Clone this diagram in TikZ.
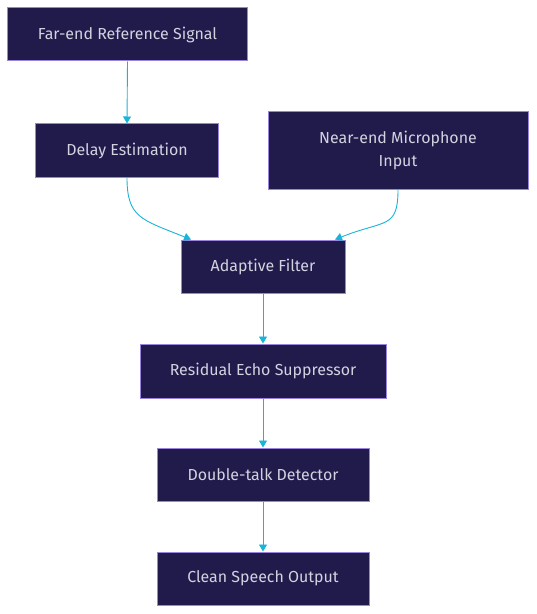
\documentclass[tikz,border=0pt]{standalone}
\usepackage{fontspec}
\setmainfont{Fira Sans}
\usetikzlibrary{arrows.meta,calc}
\definecolor{boxfill}{HTML}{201B4B}
\definecolor{boxline}{HTML}{9A84DC}
\definecolor{txt}{HTML}{D4D2E0}
\definecolor{arr}{HTML}{1AB4D6}
\tikzset{
  box/.style={draw=boxline, fill=boxfill, line width=1bp, text=txt, inner sep=0pt,
    font=\fontsize{16}{24}\selectfont, align=center},
  link/.style={draw=arr, line width=0.9bp, -{Triangle[length=7bp,width=8bp]}}
}
\begin{document}
\begin{tikzpicture}[x=1bp,y=-1bp]
\useasboundingbox (0,0) rectangle (537,614);
\node[box, minimum width=239bp, minimum height=53bp] (far) at (127.5,34.5) {Far-end Reference Signal};
\node[box, minimum width=182bp, minimum height=53bp] (delay) at (127,150.5) {Delay Estimation};
\node[box, minimum width=260bp, minimum height=77bp] (near) at (398,150.5) {Near-end Microphone\\Input};
\node[box, minimum width=164bp, minimum height=53bp] (adapt) at (263,266.5) {Adaptive Filter};
\node[box, minimum width=246bp, minimum height=54bp] (resid) at (263,371) {Residual Echo Suppressor};
\node[box, minimum width=212bp, minimum height=53bp] (dbl) at (263,474.5) {Double-talk Detector};
\node[box, minimum width=212bp, minimum height=53bp] (clean) at (263,578.5) {Clean Speech Output};
\coordinate (inL) at ($(adapt.north)+(-72,0)$);
\coordinate (inR) at ($(adapt.north)+(72,0)$);
\draw[link] (far.south) -- (delay.north);
\draw[link] (delay.south) .. controls +(0,40) and +(-50,-20) .. (inL);
\draw[link] (near.south) .. controls +(0,40) and +(50,-20) .. (inR);
\draw[link] (adapt.south) -- (resid.north);
\draw[link] (resid.south) -- (dbl.north);
\draw[link] (dbl.south) -- (clean.north);
\end{tikzpicture}
\end{document}
